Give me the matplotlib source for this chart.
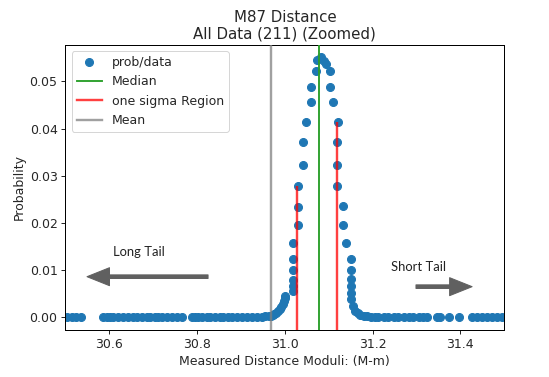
import matplotlib
matplotlib.use("Agg")
import matplotlib.pyplot as plt
from matplotlib.lines import Line2D

# ---- data ----
left_tail_x = [30.504, 30.514, 30.524, 30.535,
               30.586, 30.594, 30.602, 30.609, 30.620, 30.632, 30.643, 30.655, 30.662,
               30.674, 30.685, 30.693, 30.704, 30.712, 30.719, 30.731, 30.742, 30.754, 30.765,
               30.788, 30.795, 30.803, 30.811, 30.822, 30.830, 30.841, 30.852, 30.859,
               30.871, 30.879, 30.891, 30.902, 30.913, 30.925, 30.936, 30.948, 30.955, 30.963]
left_tail_p = [0.0000, 0.0000, 0.0000, 0.0000,
               0.0000, 0.0000, 0.0000, 0.0000, 0.0000, 0.0000, 0.0000, 0.0000, 0.0000,
               0.0000, 0.0000, 0.0000, 0.0000, 0.0000, 0.0000, 0.0000, 0.0000, 0.0000, 0.0000,
               0.0000, 0.0000, 0.0000, 0.0000, 0.0000, 0.0000, 0.0000, 0.0000, 0.0000,
               0.0000, 0.0000, 0.0000, 0.0001, 0.0001, 0.0001, 0.0001, 0.0001, 0.0002, 0.0002]

core_x = [30.968, 30.972, 30.976, 30.980, 30.984, 30.988, 30.992, 30.995, 30.998, 31.000, 31.001,
          31.019, 31.019, 31.019, 31.019, 31.019, 31.019,
          31.029, 31.029, 31.029, 31.041, 31.042, 31.049, 31.059, 31.059, 31.071, 31.073, 31.082,
          31.090, 31.095, 31.102, 31.104, 31.109, 31.121, 31.120, 31.120, 31.120,
          31.132, 31.132, 31.139, 31.151, 31.151, 31.151, 31.151, 31.151, 31.152,
          31.155, 31.160, 31.166, 31.172, 31.180, 31.188, 31.196, 31.205, 31.213]
core_p = [0.0003, 0.0004, 0.0006, 0.0009, 0.0013, 0.0017, 0.0022, 0.0027, 0.0033, 0.0040, 0.0045,
          0.0055, 0.0066, 0.0079, 0.0099, 0.0124, 0.0158,
          0.0196, 0.0233, 0.0279, 0.0323, 0.0371, 0.0415, 0.0457, 0.0489, 0.0522, 0.0545, 0.0553,
          0.0543, 0.0538, 0.0522, 0.0489, 0.0457, 0.0415, 0.0371, 0.0323, 0.0279,
          0.0235, 0.0196, 0.0158, 0.0124, 0.0099, 0.0080, 0.0066, 0.0052, 0.0038,
          0.0023, 0.0013, 0.0008, 0.0005, 0.0003, 0.0002, 0.0001, 0.0001, 0.0000]

right_tail_x = [31.225, 31.236, 31.248, 31.259, 31.271, 31.282, 31.293, 31.305, 31.316, 31.324,
                31.347, 31.354, 31.375, 31.398, 31.427, 31.438, 31.449, 31.461, 31.472, 31.484, 31.495]
right_tail_p = [0.0000, 0.0000, 0.0000, 0.0000, 0.0000, 0.0000, 0.0000, 0.0000, 0.0000, 0.0000,
                0.0000, 0.0000, 0.0000, 0.0000, 0.0000, 0.0000, 0.0000, 0.0000, 0.0000, 0.0000, 0.0000]

median_val = 31.079
mean_val = 30.968
sigma_low, sigma_high = 31.028, 31.120
sigma_low_p, sigma_high_p = 0.0279, 0.0415

xlim = (30.5, 31.5)
ylim = (-0.00275, 0.05775)

plt.rcParams.update({
    'font.size': 12.5,
    'axes.linewidth': 1.0,
    'xtick.major.size': 4.4,
    'ytick.major.size': 4.4,
    'xtick.major.width': 1.0,
    'ytick.major.width': 1.0,
    'text.color': '#262626',
    'axes.labelcolor': '#262626',
    'xtick.color': '#262626',
    'ytick.color': '#262626',
})

# ---- figure ----
fig = plt.figure(figsize=(549 / 72, 377 / 72), dpi=72)
ax = fig.add_axes([0.1193, 0.1247, 0.7990, 0.7560])

xs = left_tail_x + core_x + right_tail_x
ps = left_tail_p + core_p + right_tail_p
ax.scatter(xs, ps, s=64, color='#1f77b4', zorder=2)

ax.axvline(median_val, color='#2ca02c', lw=1.9, zorder=3)
ax.vlines([sigma_low, sigma_high], ylim[0], [sigma_low_p, sigma_high_p],
          colors='red', lw=2.4, alpha=0.75, zorder=3)
ax.axvline(mean_val, color='grey', lw=2.4, alpha=0.75, zorder=3)

ax.set_xlim(*xlim)
ax.set_ylim(*ylim)
ax.set_xticks([30.6, 30.8, 31.0, 31.2, 31.4])
ax.set_yticks([0.00, 0.01, 0.02, 0.03, 0.04, 0.05])

ax.set_title('M87 Distance\nAll Data (211) (Zoomed)', fontsize=15)
ax.set_xlabel('Measured Distance Moduli: (M-m)')
ax.set_ylabel('Probability')

handles = [
    Line2D([], [], marker='o', ls='none', color='#1f77b4', markersize=8),
    Line2D([], [], color='#2ca02c', lw=1.9),
    Line2D([], [], color='red', lw=2.4, alpha=0.75),
    Line2D([], [], color='grey', lw=2.4, alpha=0.75),
]
ax.legend(handles, ['prob/data', 'Median', 'one sigma Region', 'Mean'], loc='upper left')

arrow_color = '#606060'
ax.annotate('', xy=(0.049, 0.187), xytext=(0.325, 0.187), xycoords='axes fraction',
            arrowprops=dict(arrowstyle='simple,head_length=1.25,head_width=1.0,tail_width=0.2',
                            mutation_scale=18, color=arrow_color, shrinkA=0, shrinkB=0))
ax.annotate('', xy=(0.927, 0.152), xytext=(0.799, 0.152), xycoords='axes fraction',
            arrowprops=dict(arrowstyle='simple,head_length=1.25,head_width=1.0,tail_width=0.2',
                            mutation_scale=18, color=arrow_color, shrinkA=0, shrinkB=0))
ax.text(0.109, 0.275, 'Long Tail', transform=ax.transAxes, fontsize=13,
        family='Lato', color='#222222', va='center', ha='left')
ax.text(0.742, 0.222, 'Short Tail', transform=ax.transAxes, fontsize=13,
        family='Lato', color='#222222', va='center', ha='left')

fig.savefig('out.png', dpi=72)
